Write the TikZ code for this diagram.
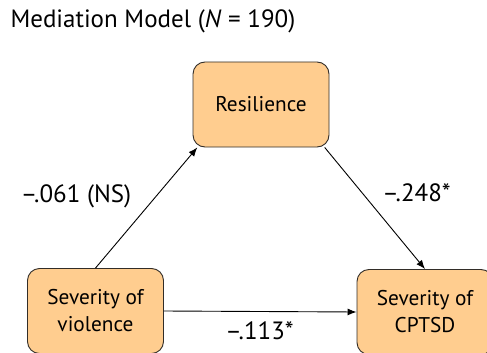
\documentclass[tikz,border=0pt]{standalone}
\usepackage{fontspec}
\setmainfont{PT Sans}
\usetikzlibrary{arrows.meta}
\definecolor{boxfill}{RGB}{255,205,143}
\definecolor{boxline}{RGB}{50,45,40}
\tikzset{
	varbox/.style={draw=boxline, line width=0.9pt, fill=boxfill, rounded corners=12pt,
		minimum width=136pt, minimum height=85pt, align=center, font=\fontsize{21.3}{27}\selectfont},
	path/.style={line width=0.9pt, -{Latex[length=9pt,width=7pt]}},
	coef/.style={font=\fontsize{25}{28}\selectfont}
}

\begin{document}
\begin{tikzpicture}[x=1pt, y=-1pt]
		%%%%% START %%%%%
		\useasboundingbox (0, 0) rectangle (487, 353);
		\clip (0, 0) rectangle (487, 353);
		
		\node[anchor=west, font=\fontsize{25}{28}\selectfont] (title) at (7, 21) {Mediation Model (\textit{N} = 190)};
		
		\node[varbox] (res) at (261, 104.5) {Resilience};
		\node[varbox] (viol) at (95.5, 311) {Severity of\\violence};
		\node[varbox] (cptsd) at (425, 312) {Severity of\\CPTSD};
		
		\draw[path] (viol.north) -- (res.214);
		\draw[path] (res.326) -- (cptsd.north);
		\draw[path] (viol.east) -- (cptsd.west);
		
		\node[coef] (a) at (76, 196) {–.061 (NS)};
		\node[coef] (b) at (416.5, 193) {–.248*};
		\node[coef] (c) at (259.5, 331) {–.113*};
		%%%%% END %%%%%
\end{tikzpicture}
\end{document}
